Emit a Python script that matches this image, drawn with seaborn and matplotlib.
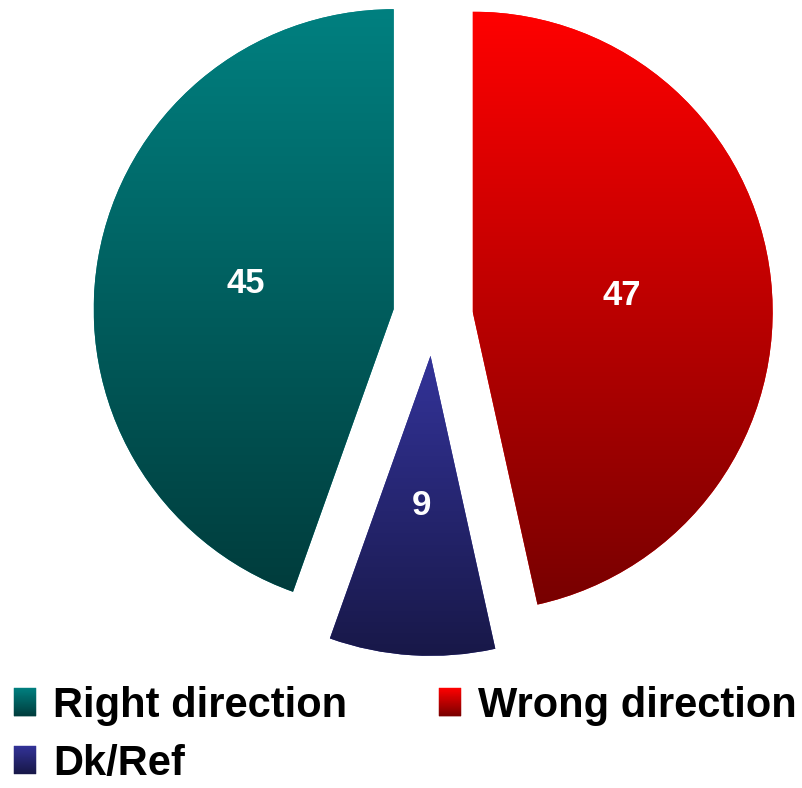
import matplotlib
matplotlib.use("Agg")
import matplotlib.pyplot as plt
import numpy as np
import seaborn as sns
from matplotlib.colors import to_rgb
from matplotlib.legend_handler import HandlerBase
from matplotlib.patches import Patch, Rectangle

# data, in drawing order (clockwise from 12 o'clock)
labels = ["Wrong direction", "Dk/Ref", "Right direction"]
values = [47, 9, 45]
top_colors = ["#ff0000", "#333399", "#008080"]
legend_order = ["Right direction", "Dk/Ref", "Wrong direction"]

DARK = 0.47  # bottom colour = top colour * DARK


def gradient(color, n=256):
  top = np.array(to_rgb(color))
  t = np.linspace(0, 1, n)[:, None]
  return (top * (1 - (1 - DARK) * t))[:, None, :]


class GradientHandler(HandlerBase):
  def create_artists(self, legend, orig_handle, xdescent, ydescent, width, height, fontsize, trans):
    top = np.array(to_rgb(orig_handle.get_facecolor()))
    n = 40
    strips = []
    for i in range(n):
      c = top * (1 - (1 - DARK) * (i + 0.5) / n)
      y = -ydescent + height * (1 - (i + 1) / n)
      strips.append(Rectangle((-xdescent, y), width, height / n, facecolor=c,
                              edgecolor=c, linewidth=0.3, transform=trans))
    return strips


sns.set_style("white")
plt.rcParams['font.family'] = ['Liberation Sans', 'DejaVu Sans']

fig = plt.figure(figsize=(8.03, 7.88), dpi=100)
ax = fig.add_axes([0, 0, 1, 1])

total = sum(values)
wedges, _, autotexts = ax.pie(
  values, startangle=90, counterclock=False, explode=[0.133] * 3,
  colors=top_colors, autopct=lambda p: '{:.0f}'.format(p * total / 100),
  pctdistance=0.5, wedgeprops={'linewidth': 0},
  textprops={'color': 'white', 'fontsize': 25, 'fontweight': 'bold'})

for w, col in zip(wedges, top_colors):
  ext = w.get_path().get_extents()
  im = ax.imshow(gradient(col), extent=[ext.x0, ext.x1, ext.y0, ext.y1],
                 aspect='auto', zorder=w.get_zorder() + 0.1, interpolation='bilinear')
  im.set_clip_path(w)

for t in autotexts:
  t.set_zorder(5)

cx, cy, r = 433, 316, 300
ax.set_xlim(-cx / r, (803 - cx) / r)
ax.set_ylim((cy - 788) / r, cy / r)
ax.set_aspect('auto')
ax.axis('off')

handles = [Patch(facecolor=top_colors[labels.index(name)]) for name in legend_order]
fig.legend(handles, legend_order, handler_map={Patch: GradientHandler()},
           loc='upper left', bbox_to_anchor=(14 / 803, 1 - 686 / 788),
           ncol=2, frameon=False, prop={'weight': 'bold', 'size': 30},
           labelcolor='black',
           handlelength=0.52, handleheight=0.66, handletextpad=0.42,
           columnspacing=2.2, labelspacing=0.42, borderpad=0, borderaxespad=0)

fig.savefig('out.png', dpi=100)
